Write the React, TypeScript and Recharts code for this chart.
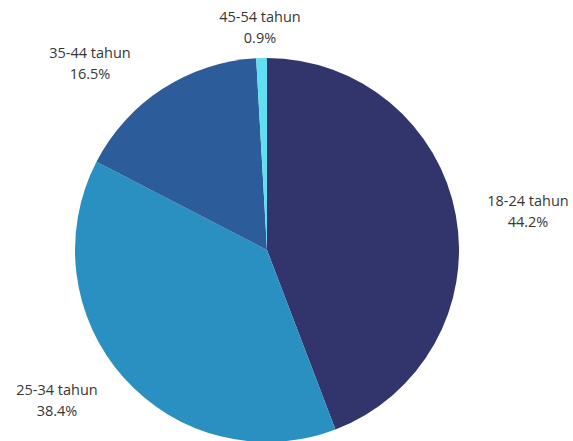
import React from "react";
import { PieChart, Pie, Cell } from "recharts";

const categories = ["18-24 tahun", "25-34 tahun", "35-44 tahun", "45-54 tahun"];
const shares = [44.2, 38.4, 16.5, 0.9];
const shareLabels = ["44.2%", "38.4%", "16.5%", "0.9%"];

const colors = ["#31356b", "#2a8fc1", "#2c5c99", "#5fdff0"];

const data = categories.map((name, i) => ({ name, value: shares[i], pct: shareLabels[i] }));

// label anchor offsets relative to pie center (text layout only)
const labelOffsets = [
  { dx: 261, dy: -49 },
  { dx: -210, dy: 140 },
  { dx: -177, dy: -197 },
  { dx: -7, dy: -233 },
];

const renderLabel = (props: any) => {
  const { cx, cy, index } = props;
  const o = labelOffsets[index];
  const x = cx + o.dx;
  const y = cy + o.dy;
  return (
    <text
      x={x}
      y={y}
      textAnchor="middle"
      fill="#363636"
      fontFamily="'Open Sans', sans-serif"
      fontSize={14.5}
    >
      <tspan x={x} dy="0.35em">{data[index].name}</tspan>
      <tspan x={x} dy={21}>{data[index].pct}</tspan>
    </text>
  );
};

export default function App() {
  return (
    <div style={{ position: "absolute", left: 0, top: 0, width: 573, height: 441, background: "#fff" }}>
      <PieChart width={573} height={441} margin={{ top: 0, right: 0, bottom: 0, left: 0 }}>
        <Pie
          data={data}
          dataKey="value"
          nameKey="name"
          cx={267}
          cy={250}
          outerRadius={192}
          startAngle={90}
          endAngle={-270}
          stroke="none"
          label={renderLabel}
          labelLine={false}
          isAnimationActive={false}
        >
          {data.map((d, i) => (
            <Cell key={d.name} fill={colors[i]} />
          ))}
        </Pie>
      </PieChart>
    </div>
  );
}
